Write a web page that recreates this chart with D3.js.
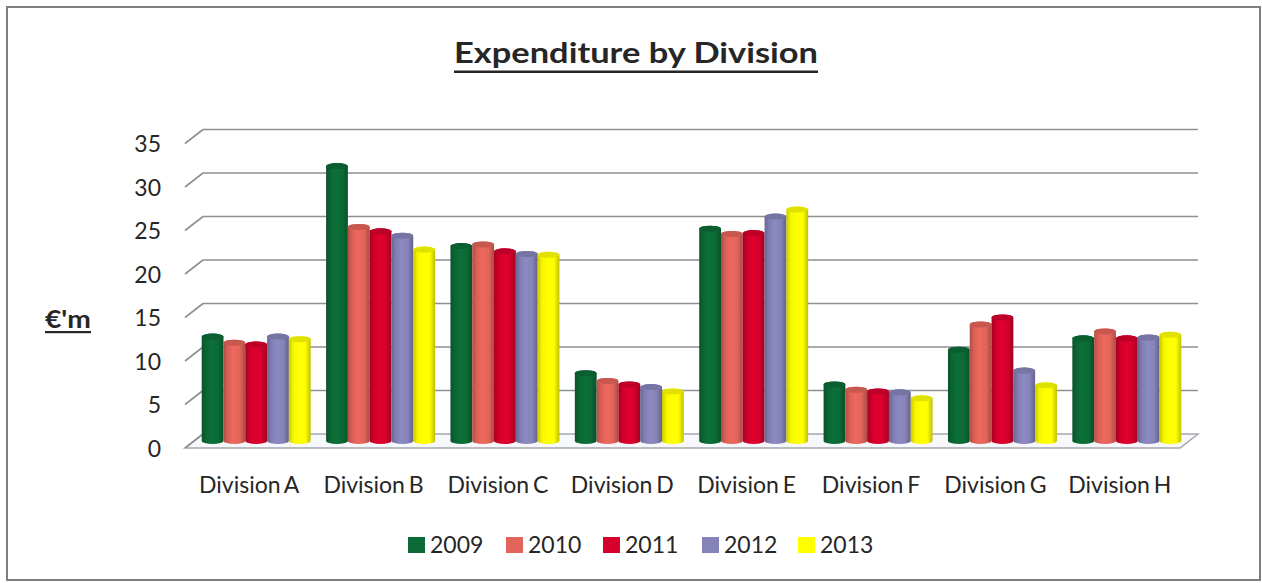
<!DOCTYPE html>
<html>
<head>
<meta charset="utf-8">
<script src="https://cdn.jsdelivr.net/npm/d3@7"></script>
<style>
  html, body { margin: 0; padding: 0; background: #fff; }
  svg { display: block; }
  text { font-family: Lato, "Open Sans", sans-serif; fill: #262626; }
</style>
</head>
<body>
<svg id="chart" width="1262" height="583"></svg>
<script>
// Expenditure per division, € millions, 2009–2013
const divisions = ["Division A", "Division B", "Division C", "Division D",
                   "Division E", "Division F", "Division G", "Division H"];
const years = ["2009", "2010", "2011", "2012", "2013"];
const values2009 = [12.0, 31.6, 22.4, 7.8, 24.4, 6.5, 10.5, 11.8];
const values2010 = [11.3, 24.6, 22.6, 6.9, 23.8, 5.9, 13.4, 12.6];
const values2011 = [11.1, 24.1, 21.8, 6.5, 23.9, 5.7, 14.2, 11.8];
const values2012 = [12.0, 23.6, 21.5, 6.2, 25.8, 5.6, 8.1, 11.9];
const values2013 = [11.7, 22.0, 21.4, 5.7, 26.6, 4.9, 6.4, 12.2];
const yTicks = [0, 5, 10, 15, 20, 25, 30, 35];
const colors = ["#0b6a35", "#e2645a", "#d5002c", "#8583b8", "#ffff00"];

const seriesValues = [values2009, values2010, values2011, values2012, values2013];

const svg = d3.select("#chart");

// outer frame
svg.append("rect")
  .attr("x", 7).attr("y", 7).attr("width", 1253).attr("height", 573)
  .attr("fill", "none").attr("stroke", "#7f7f7f").attr("stroke-width", 2);

// 3D geometry: back wall is shifted right/up from the front plane
const depthX = 18, depthY = -14;
const frontLeft = 185, frontRight = 1180, floorFront = 448;

const x0 = d3.scaleBand().domain(divisions)
  .range([frontLeft, frontRight]).paddingInner(0.124).paddingOuter(0.062);
const x1 = d3.scaleBand().domain(years).range([0, x0.bandwidth()]);
// y measured on the back wall
const yBack = d3.scaleLinear().domain([0, 35]).range([floorFront + depthY, floorFront + depthY - 304.5]);

// floor
const floorPts = [
  [frontLeft, floorFront], [frontRight, floorFront],
  [frontRight + depthX, floorFront + depthY], [frontLeft + depthX, floorFront + depthY]
];
svg.append("polygon")
  .attr("points", floorPts.map(p => p.join(",")).join(" "))
  .attr("fill", "#f7f8fb").attr("stroke", "#a6a6b0").attr("stroke-width", 1.5);

// gridlines: side-wall diagonal plus back-wall horizontal
const grid = svg.append("g");
yTicks.forEach(t => {
  const yb = yBack(t);
  if (t > 0) {
    grid.append("line")
      .attr("x1", frontLeft + depthX).attr("x2", frontRight + depthX)
      .attr("y1", yb).attr("y2", yb)
      .attr("stroke", "#8c8f96").attr("stroke-width", 1.6);
  }
  grid.append("line")
    .attr("x1", frontLeft).attr("y1", yb - depthY)
    .attr("x2", frontLeft + depthX).attr("y2", yb)
    .attr("stroke", "#8c8f96").attr("stroke-width", 1.6);
});

// y tick labels on the front plane
svg.append("g").selectAll("text").data(yTicks).join("text")
  .attr("x", 161).attr("y", d => yBack(d) - depthY + 3)
  .attr("text-anchor", "end").attr("dominant-baseline", "middle")
  .attr("font-size", 23).text(d => d);

// cylinder gradients
const defs = svg.append("defs");
colors.forEach((c, i) => {
  const base = d3.color(c);
  const g = defs.append("linearGradient").attr("id", "cyl" + i)
    .attr("x1", "0%").attr("x2", "100%").attr("y1", "0%").attr("y2", "0%");
  g.append("stop").attr("offset", "0%").attr("stop-color", base.darker(0.7));
  g.append("stop").attr("offset", "20%").attr("stop-color", base.darker(0.1));
  g.append("stop").attr("offset", "45%").attr("stop-color", base.brighter(0.15));
  g.append("stop").attr("offset", "75%").attr("stop-color", base);
  g.append("stop").attr("offset", "100%").attr("stop-color", base.darker(0.8));
});

// bars sit halfway into the depth
const midX = depthX / 2, midY = depthY / 2;
const bars = svg.append("g");
divisions.forEach((div, di) => {
  years.forEach((yr, si) => {
    const v = seriesValues[si][di];
    const w = x1.bandwidth();
    const x = x0(div) + x1(yr) + midX;
    const top = yBack(v) - depthY + midY;
    const bottom = yBack(0) - depthY + midY;
    const rx = w / 2, ry = 3;
    bars.append("path")
      .attr("d", `M${x},${top} L${x},${bottom} A${rx},${ry} 0 0 0 ${x + w},${bottom} L${x + w},${top} A${rx},${ry} 0 0 0 ${x},${top} Z`)
      .attr("fill", `url(#cyl${si})`);
    bars.append("ellipse")
      .attr("cx", x + rx).attr("cy", top).attr("rx", rx).attr("ry", ry)
      .attr("fill", d3.color(colors[si]).darker(0.35));
  });
});

// category labels
svg.append("g").selectAll("text").data(divisions).join("text")
  .attr("x", d => x0(d) + x0.bandwidth() / 2 + 2)
  .attr("y", 493).attr("text-anchor", "middle")
  .attr("font-size", 23).attr("word-spacing", -2).text(d => d);

// title
svg.append("text")
  .attr("x", 636).attr("y", 63).attr("text-anchor", "middle")
  .attr("font-size", 29).attr("font-weight", "bold")
  .attr("textLength", 364).attr("lengthAdjust", "spacingAndGlyphs")
  .text("Expenditure by Division");
svg.append("rect").attr("x", 636 - 182).attr("y", 70.5).attr("width", 364).attr("height", 2.5).attr("fill", "#262626");

// y-axis title
svg.append("text")
  .attr("x", 45).attr("y", 328)
  .attr("font-size", 24).attr("font-weight", "bold")
  .attr("textLength", 46).attr("lengthAdjust", "spacingAndGlyphs")
  .text("€'m");
svg.append("rect").attr("x", 45).attr("y", 331).attr("width", 46).attr("height", 2.2).attr("fill", "#262626");

// legend
const legendX = [408, 506, 603, 702, 798];
const legend = svg.append("g");
years.forEach((yr, i) => {
  legend.append("rect")
    .attr("x", legendX[i]).attr("y", 537).attr("width", 17).attr("height", 16)
    .attr("fill", colors[i]);
  legend.append("text")
    .attr("x", legendX[i] + 22).attr("y", 553)
    .attr("font-size", 23).text(yr);
});
</script>
</body>
</html>
